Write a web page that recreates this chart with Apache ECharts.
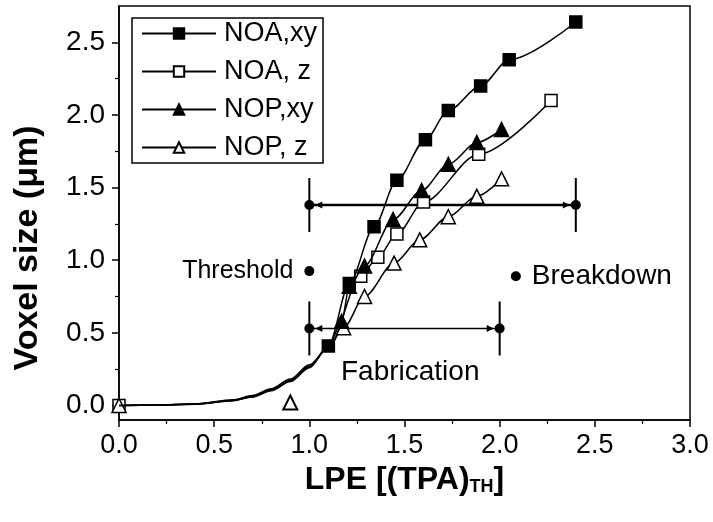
<!DOCTYPE html>
<html>
<head>
<meta charset="utf-8">
<script src="https://cdn.jsdelivr.net/npm/echarts@6/dist/echarts.min.js"></script>
<style>
html, body { margin: 0; padding: 0; background: #fff; }
#chart { width: 713px; height: 522px; }
</style>
</head>
<body>
<div id="chart"></div>
<script>
// Axis ticks
const yTicks = [0, 0.5, 1.0, 1.5, 2.0, 2.5];
const yMinorTicks = [0.25, 0.75, 1.25, 1.75, 2.25];

// Voxel size (µm) vs. laser pulse energy (units of (TPA)TH)
// "onset" arrays trace the fitted low-energy part of each curve (drawn without markers)
const noaXyOnset = [[0, 0], [0.2, 0.002], [0.4, 0.009], [0.6, 0.033], [0.7, 0.058], [0.8, 0.102], [0.9, 0.165], [1.0, 0.26]];
const noaXy = [[1.10, 0.41], [1.21, 0.84], [1.34, 1.23], [1.46, 1.55], [1.61, 1.83], [1.73, 2.03], [1.90, 2.20], [2.05, 2.38], [2.40, 2.64]];

const noaZOnset = [[0.2, 0.002], [0.4, 0.010], [0.6, 0.036], [0.7, 0.062], [0.8, 0.108], [0.9, 0.172], [1.0, 0.27], [1.1, 0.40]];
const noaZ = [[0, 0], [1.27, 0.89], [1.36, 1.02], [1.46, 1.18], [1.60, 1.40], [1.89, 1.73], [2.27, 2.10]];

const nopXyOnset = [[0, 0], [0.2, 0.002], [0.4, 0.010], [0.6, 0.035], [0.7, 0.060], [0.8, 0.105], [0.9, 0.168], [1.0, 0.265], [1.1, 0.40]];
const nopXy = [[1.17, 0.58], [1.21, 0.82], [1.29, 0.96], [1.44, 1.28], [1.59, 1.48], [1.73, 1.66], [1.88, 1.81], [2.01, 1.90]];

const nopZOnset = [[0.2, 0.003], [0.4, 0.012], [0.6, 0.040], [0.7, 0.068], [0.8, 0.115], [0.9, 0.182], [1.0, 0.28], [1.1, 0.40]];
const nopZ = [[0, 0], [1.18, 0.535], [1.29, 0.75], [1.445, 0.98], [1.58, 1.14], [1.73, 1.30], [1.88, 1.44], [2.01, 1.56]];
const nopZStray = [[0.9, 0.02]];

// Energy windows: [start, end, voxel size level]
const windows = [[1.0, 2.4, 1.38], [1.0, 2.0, 0.53]];
const thresholdPoint = [[1.0, 0.925]];
const breakdownPoint = [[2.085, 0.89]];
const fabricationLabel = [[1.53, 0.23]];

const FONT = 'Liberation Sans';

function buildLine(onset, points) {
  const rows = onset.map(p => ({ value: p, symbol: 'none' }))
    .concat(points.map(p => ({ value: p })));
  rows.sort((a, b) => a.value[0] - b.value[0]);
  return rows;
}

function curve(name, onset, points, symbol, filled) {
  return {
    name: name,
    type: 'line',
    data: buildLine(onset, points),
    symbol: symbol,
    symbolSize: symbol === 'triangle' ? 14 : 12,
    smooth: 0.3,
    smoothMonotone: 'x',
    showAllSymbol: true,
    lineStyle: { color: '#000', width: 1.5 },
    itemStyle: { color: filled ? '#000' : '#fff', borderColor: '#000', borderWidth: 1.5, opacity: 1 },
    z: filled ? 4 : 3
  };
}

function renderWindow(params, api) {
  const a = api.coord([api.value(0), api.value(2)]);
  const b = api.coord([api.value(1), api.value(2)]);
  const thick = params.dataIndex === 0;
  const lw = thick ? 2.5 : 1.3;
  const half = 27;
  const stroke = { stroke: '#000', lineWidth: lw };
  const tick = { stroke: '#000', lineWidth: 2 };
  return {
    type: 'group',
    children: [
      { type: 'line', shape: { x1: a[0], y1: a[1], x2: b[0], y2: b[1] }, style: stroke },
      { type: 'line', shape: { x1: a[0], y1: a[1] - half, x2: a[0], y2: a[1] + half }, style: tick },
      { type: 'line', shape: { x1: b[0], y1: b[1] - half, x2: b[0], y2: b[1] + half }, style: tick },
      { type: 'polygon', shape: { points: [[a[0] + 6, a[1]], [a[0] + 13, a[1] - 3.5], [a[0] + 13, a[1] + 3.5]] }, style: { fill: '#000' } },
      { type: 'polygon', shape: { points: [[b[0] - 6, b[1]], [b[0] - 13, b[1] - 3.5], [b[0] - 13, b[1] + 3.5]] }, style: { fill: '#000' } },
      { type: 'circle', shape: { cx: a[0], cy: a[1], r: 5 }, style: { fill: '#000' } },
      { type: 'circle', shape: { cx: b[0], cy: b[1], r: 5 }, style: { fill: '#000' } }
    ]
  };
}

function annotation(data, text, position, dotSize, fontSize) {
  return {
    type: 'scatter',
    data: data,
    symbol: 'circle',
    symbolSize: dotSize,
    itemStyle: { color: dotSize > 1 ? '#000' : 'rgba(0,0,0,0)', opacity: 1 },
    emphasis: { disabled: true },
    label: {
      show: true, position: position, distance: 11,
      formatter: text, fontFamily: FONT, fontSize: fontSize, color: '#000', opacity: 1
    },
    z: 5
  };
}

const chart = echarts.init(document.getElementById('chart'), null, { renderer: 'canvas' });

chart.setOption({
  backgroundColor: '#fff',
  animation: false,
  textStyle: { fontFamily: FONT, color: '#000' },
  grid: {
    left: 119, right: 23, top: 6, bottom: 102,
    show: true, borderColor: '#000', borderWidth: 1.5, backgroundColor: 'transparent'
  },
  legend: {
    data: ['NOA,xy', 'NOA, z', 'NOP,xy', 'NOP, z'],
    orient: 'vertical',
    left: 132, top: 18,
    padding: [2, 6, 2, 9],
    itemWidth: 74, itemHeight: 13,
    itemGap: 11,
    borderColor: '#000', borderWidth: 1.5,
    backgroundColor: '#fff',
    textStyle: { fontFamily: FONT, fontSize: 27, color: '#000', padding: [0, 0, 0, 3] }
  },
  xAxis: {
    type: 'value',
    min: 0, max: 3, interval: 0.5,
    name: '{t|LPE [(TPA)}{s|TH}{t|]}',
    nameLocation: 'middle',
    nameGap: 40,
    nameTextStyle: {
      rich: {
        t: { fontFamily: FONT, fontSize: 32, fontWeight: 'bold', color: '#000', verticalAlign: 'bottom' },
        s: { fontFamily: FONT, fontSize: 18, fontWeight: 'bold', color: '#000', padding: [14, 0, 0, 0], verticalAlign: 'bottom' }
      }
    },
    axisLine: { onZero: false, lineStyle: { color: '#000', width: 1.5 } },
    axisTick: { show: true, inside: false, length: 7, lineStyle: { color: '#000', width: 1.5 } },
    minorTick: { show: true, splitNumber: 2, length: 4, lineStyle: { color: '#000', width: 1.2 } },
    axisLabel: {
      fontFamily: FONT, fontSize: 27, color: '#000', margin: 12,
      formatter: v => v.toFixed(1)
    },
    splitLine: { show: false }
  },
  yAxis: [
    {
      type: 'value',
      min: -0.1, max: 2.75,
      name: 'Voxel size (μm)',
      nameLocation: 'middle',
      nameGap: 74,
      nameTextStyle: { fontFamily: FONT, fontSize: 34, fontWeight: 'bold', color: '#000', padding: [0, 70, 0, 0] },
      axisLine: { onZero: false, lineStyle: { color: '#000', width: 1.5 } },
      axisTick: { show: true, length: 7, customValues: yTicks, lineStyle: { color: '#000', width: 1.5 } },
      axisLabel: {
        fontFamily: FONT, fontSize: 28, color: '#000', margin: 14,
        customValues: yTicks,
        formatter: v => v.toFixed(1)
      },
      splitLine: { show: false }
    },
    {
      type: 'value',
      min: -0.1, max: 2.75,
      position: 'left',
      axisLine: { show: false },
      axisTick: { show: true, length: 4, customValues: yMinorTicks, lineStyle: { color: '#000', width: 1.2 } },
      axisLabel: { show: false },
      splitLine: { show: false }
    }
  ],
  series: [
    curve('NOA,xy', noaXyOnset, noaXy, 'rect', true),
    curve('NOA, z', noaZOnset, noaZ, 'rect', false),
    curve('NOP,xy', nopXyOnset, nopXy, 'triangle', true),
    curve('NOP, z', nopZOnset, nopZ, 'triangle', false),
    {
      type: 'scatter',
      data: nopZStray,
      symbol: 'triangle',
      symbolSize: 14,
      itemStyle: { color: '#fff', borderColor: '#000', borderWidth: 2, opacity: 1 },
      z: 3
    },
    {
      type: 'custom',
      data: windows,
      renderItem: renderWindow,
      z: 2
    },
    annotation(thresholdPoint, 'Threshold', 'left', 10, 25),
    annotation(breakdownPoint, 'Breakdown', 'right', 10, 28),
    annotation(fabricationLabel, 'Fabrication', 'inside', 1, 28)
  ]
});
</script>
</body>
</html>
